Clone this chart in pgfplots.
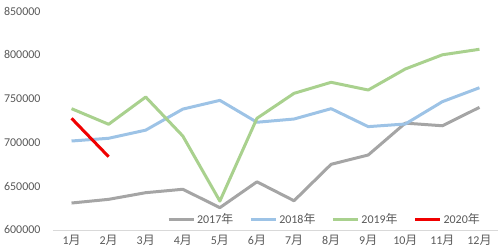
\documentclass[border=0pt]{standalone}
\usepackage{fontspec}
\setmainfont{Carlito}
\newfontfamily\cjk{Noto Sans CJK SC}
\usepackage{pgfplots}
\pgfplotsset{compat=1.18}
\definecolor{cA}{RGB}{165,165,165}
\definecolor{cB}{RGB}{157,195,230}
\definecolor{cC}{RGB}{169,209,142}
\definecolor{cD}{RGB}{240,0,0}
\definecolor{lab}{RGB}{89,89,89}
\definecolor{axl}{RGB}{217,217,217}
\newcommand{\mo}{{\cjk 月}}
\newcommand{\yr}{{\cjk 年}}
\begin{document}
\begin{tikzpicture}
\useasboundingbox (-53bp,-22bp) rectangle (447bp,230bp);
\begin{axis}[
  scale only axis, width=445bp, height=219bp,
  xmin=0.5, xmax=12.5, ymin=600000, ymax=850000,
  ytick={600000,650000,700000,750000,800000,850000},
  yticklabels={600000,650000,700000,750000,800000,850000},
  xtick={1,...,12},
  xticklabels={1\mo,2\mo,3\mo,4\mo,5\mo,6\mo,7\mo,8\mo,9\mo,10\mo,11\mo,12\mo},
  axis x line*=bottom, axis y line*=left,
  y axis line style={draw=none},
  x axis line style={draw=axl, line width=0.8bp},
  major tick length=0pt,
  scaled y ticks=false,
  tick label style={font=\fontsize{12}{12}\selectfont, text=lab},
  yticklabel style={xshift=-9bp},
  xticklabel style={yshift=-2bp},
  legend columns=4,
  legend style={draw=none, fill=none, at={(0.61,0.05)}, anchor=center,
    font=\fontsize{12}{12}\selectfont, text=lab,
    /tikz/every even column/.append style={column sep=14bp}},
  legend image code/.code={\draw[#1] (0bp,0bp) -- (25bp,0bp);},
  every axis plot/.append style={line width=3bp, line join=round},
]
\addplot[cA] coordinates {(1,630800) (2,635000) (3,642600) (4,646500) (5,625500) (6,655000) (7,633400) (8,675000) (9,685600) (10,722000) (11,719000) (12,740000)};
\addlegendentry{2017\yr}
\addplot[cB] coordinates {(1,701600) (2,704700) (3,714000) (4,738000) (5,748000) (6,723000) (7,726700) (8,738500) (9,718000) (10,721000) (11,746500) (12,762400)};
\addlegendentry{2018\yr}
\addplot[cC] coordinates {(1,738500) (2,720700) (3,751800) (4,707300) (5,633000) (6,727500) (7,756000) (8,768600) (9,759800) (10,783800) (11,800000) (12,806300)};
\addlegendentry{2019\yr}
\addplot[cD] coordinates {(1,727500) (2,683700)};
\addlegendentry{2020\yr}
\end{axis}
\end{tikzpicture}
\end{document}
